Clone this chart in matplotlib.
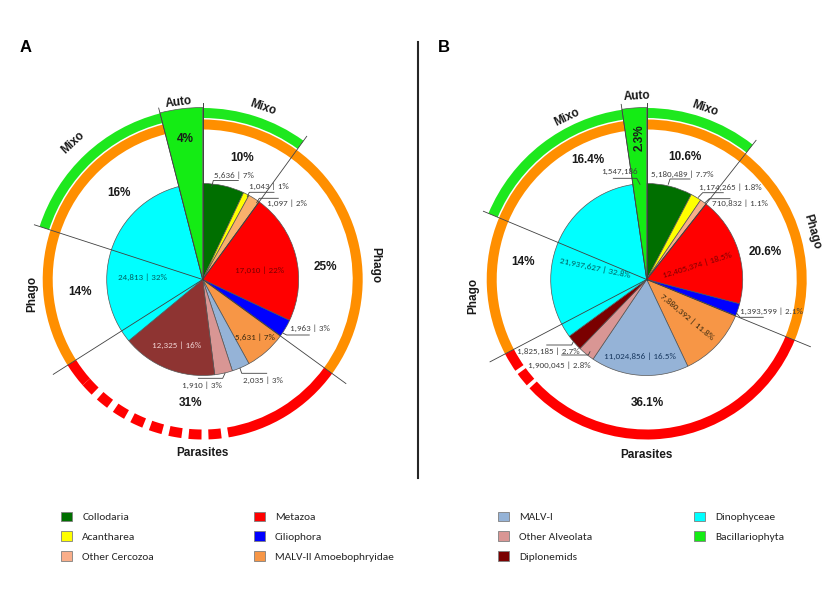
import matplotlib
matplotlib.use("Agg")
import matplotlib.pyplot as plt
from matplotlib.patches import Wedge, Patch
from matplotlib import font_manager
import numpy as np

names = {f.name for f in font_manager.fontManager.ttflist}
LABEL_FONT = "Carlito" if "Carlito" in names else "Lato"
BOLD_FONT = "Liberation Sans"

# ---- data ----
taxa = ["Collodaria", "Acantharea", "Other Cercozoa", "Metazoa", "Ciliophora",
        "MALV-II Amoebophryidae", "MALV-I", "Other Alveolata", "Diplonemids",
        "Dinophyceae", "Bacillariophyta"]
taxa_colors = ["#006f00", "#ffff00", "#f9ae8a", "#ff0000", "#0000ff",
               "#f79646", "#95b3d7", "#d99694", "#7a0000", "#00ffff", "#14ec14"]
a_colors = ["#006f00", "#ffff00", "#f9b06c", "#ff0000", "#0000ff",
            "#f79646", "#95b3d7", "#d99694", "#8e3432", "#00ffff", "#14ec14"]

a_reads = [5636, 1043, 1097, 17010, 1963, 5631, 2035, 1910, 12325, 24813, 3300]
a_pct = [7, 1, 2, 22, 3, 7, 3, 3, 16, 32, 4]
b_reads = [5180489, 1174265, 710832, 12405374, 1393599, 7880392,
           11024856, 1900045, 1825185, 21937627, 1547186]
b_pct = [7.7, 1.8, 1.1, 18.5, 2.1, 11.8, 16.5, 2.8, 2.7, 32.8, 2.3]

groups = ["Mixo", "Phago", "Parasites", "Phago", "Mixo", "Auto"]
a_group_pct = [10, 25, 31, 14, 16, 4]
b_group_pct = [10.6, 20.6, 36.1, 14, 16.4, 2.3]

# ---- layout (image pixel coords, y down) ----
H = 590
R_PIE = 96
R_RING = 160
R_GREEN = 171.5
RING_W = 10
R_LINE = 177
ORANGE = "#ff8f00"
RED = "#ff0000"
GREEN = "#1ee81e"
LINE_C = "#404040"
TXT_C = "#404040"
SMALL = 6.5


def Y(y):
    return H - y


def ang(p):
    return 90 - 3.6 * p


def polar(c, a, r):
    t = np.radians(a)
    return c[0] + r * np.cos(t), c[1] + r * np.sin(t)


fig = plt.figure(figsize=(8.4, 5.9), dpi=100)
ax = fig.add_axes([0, 0, 1, 1])


def draw_panel(center_img, pct, colors, reads, group_pct, red_style,
               group_lab, pct_lab, callouts, inside):
    c = (center_img[0], Y(center_img[1]))
    bounds = np.concatenate([[0], np.cumsum(group_pct)])
    for i, g in enumerate(groups):
        t1, t2 = ang(bounds[i + 1]), ang(bounds[i])
        if g in ("Mixo", "Phago"):
            ax.add_patch(Wedge(c, R_RING, t1, t2, width=RING_W, color=ORANGE, lw=0))
        if g == "Mixo":
            ax.add_patch(Wedge(c, R_GREEN, t1, t2, width=RING_W, color=GREEN, lw=0))
        if g == "Parasites":
            red_style(c, bounds[i], bounds[i + 1])
    wedges, _ = ax.pie(pct, colors=colors, startangle=90, counterclock=False,
                       center=c, radius=R_PIE,
                       wedgeprops=dict(edgecolor="#555555", linewidth=0.5))
    wedges[-1].set_radius(R_GREEN + 0.5)
    for w in wedges:
        w.set_zorder(2)
    for b in bounds:
        x, y = polar(c, ang(b), R_LINE)
        ax.plot([c[0], x], [c[1], y], color=LINE_C, lw=0.6, zorder=3)
    for g, (a, r, rot) in zip(groups, group_lab):
        x, y = polar(c, a, r)
        ax.text(x, y, g, ha="center", va="center", rotation=rot,
                fontsize=8.5, fontweight="bold", family=BOLD_FONT, color="#1a1a1a")
    for gp, (x, y, rot) in zip(group_pct, pct_lab):
        ax.text(x, Y(y), f"{gp:g}%", ha="center", va="center", rotation=rot,
                fontsize=8.5, fontweight="bold", family=BOLD_FONT, color="#1a1a1a",
                zorder=4)
    for i, (x, y, pts, only_reads) in callouts.items():
        s = f"{reads[i]:,}" if only_reads else f"{reads[i]:,} | {pct[i]:g}%"
        ax.text(x, Y(y), s, ha="center", va="center", fontsize=SMALL,
                family=LABEL_FONT, color=TXT_C, zorder=4)
        ax.plot([p[0] for p in pts], [Y(p[1]) for p in pts], color=LINE_C,
                lw=0.6, zorder=4)
    for i, (x, y, rot, col) in inside.items():
        ax.text(x, Y(y), f"{reads[i]:,} | {pct[i]:g}%", ha="center", va="center",
                rotation=rot, fontsize=SMALL, family=LABEL_FONT, color=col, zorder=4)


def red_dashed(c, s, e):
    span = e - s
    d0, d1 = s + 0.40 * span, s + 0.92 * span
    ax.add_patch(Wedge(c, R_RING, ang(d0), ang(s), width=RING_W, color=RED, lw=0))
    ax.add_patch(Wedge(c, R_RING, ang(e), ang(d1), width=RING_W, color=RED, lw=0))
    n = 8
    step = (d1 - d0) / n
    for k in range(n):
        a0 = d0 + k * step + 0.35 * step
        a1 = d0 + (k + 1) * step
        ax.add_patch(Wedge(c, R_RING, ang(a1), ang(a0), width=RING_W, color=RED, lw=0))


def red_gaps(c, s, e):
    ax.add_patch(Wedge(c, R_RING, ang(e), ang(s), width=RING_W, color=RED, lw=0))
    span = e - s
    for f in (0.889, 0.94):
        p = s + f * span
        ax.add_patch(Wedge(c, R_RING + 1, ang(p + 0.2), ang(p - 0.2),
                           width=RING_W + 2, color="white", lw=0))


a_group_lab = [(70.6, 182, -19), (4.8, 173, -90), (270, 174, 0),
               (185, 171, 90), (133.5, 188, 43), (97.6, 179, 7)]
a_pct_lab = [(242, 158, 0), (325, 267, 0), (191, 403, 0),
             (80, 292, 0), (119, 193, 0), (185, 139, 0)]
a_callouts = {
    0: (234, 175.5, [(211.7, 186.7), (213.3, 180.5), (238.3, 180.5)], False),
    1: (268.5, 186.7, [(247.3, 196.7), (249.3, 192.3), (274, 192.3)], False),
    2: (286.5, 203.3, [(256.7, 202.7), (259.3, 198.3), (278.3, 198.3)], False),
    4: (310, 328.5, [(283.3, 333.3), (286.7, 335), (309.3, 335)], False),
    6: (262.5, 380, [(240, 368.3), (241.7, 373.3), (266.7, 373.3)], False),
    7: (201.7, 385, [(225, 373.3), (222.7, 378.3), (198.3, 378.3)], False),
}
a_inside = {
    3: (260, 270, 0, "#7a0000"),
    5: (255, 337.7, 0, "#3a2a10"),
    8: (176.7, 345, 0, "#f2d6d6"),
    9: (142, 277, 0, "#006060"),
}

b_group_lab = [(71.2, 181, -19), (16.2, 172, -74), (270, 176, 0),
               (185.3, 174, 90), (116.2, 181, 26), (93, 183, 3)]
b_pct_lab = [(685, 157, 0), (765, 252, 0), (647, 403, 0),
             (523, 262, 0), (588, 160, 0), (640, 138, 90)]
b_callouts = {
    10: (619.5, 171.7, [(613.3, 178.3), (636.7, 178.3), (640, 184.3)], True),
    0: (682, 174, [(668.3, 184.3), (670, 179), (690, 179)], False),
    1: (730.8, 187.7, [(698.3, 197.3), (702.7, 192.7), (723.3, 192.7)], False),
    2: (739.5, 203.3, [(705, 202.7), (709.3, 198.7), (730, 198.7)], False),
    4: (771.3, 311.7, [(736.7, 313.3), (740, 317.3), (763.3, 317.3)], False),
    8: (548, 351, [(573.3, 341.7), (571.7, 345), (546.7, 345)], False),
    7: (559.7, 365, [(590, 351.7), (588.3, 355), (561.7, 355)], False),
}
b_inside = {
    3: (697, 265, 17, "#7a0000"),
    5: (687.5, 316.7, -40, "#3a2a10"),
    6: (640, 356.7, 0, "#17375e"),
    9: (595, 267.7, -12, "#006060"),
}

draw_panel((202.7, 279.5), a_pct, a_colors, a_reads, a_group_pct, red_dashed,
           a_group_lab, a_pct_lab, a_callouts, a_inside)
draw_panel((646.7, 279.5), b_pct, taxa_colors, b_reads, b_group_pct, red_gaps,
           b_group_lab, b_pct_lab, b_callouts, b_inside)

ax.text(26, Y(47), "A", ha="center", va="center", fontsize=12,
        fontweight="bold", family=BOLD_FONT)
ax.text(443.7, Y(47), "B", ha="center", va="center", fontsize=12,
        fontweight="bold", family=BOLD_FONT)
ax.plot([418.3, 418.3], [Y(41.7), Y(478)], color="#262626", lw=1.5)


def handles(idx):
    out = []
    for i in idx:
        col = taxa_colors[i]
        out.append(Patch(facecolor=col, edgecolor="#7f7f7f", linewidth=0.6,
                         label=taxa[i]))
    return out


leg_kw = dict(loc="upper left", frameon=False, ncol=2, borderpad=0,
              borderaxespad=0, handlelength=0.96, handleheight=0.96,
              handletextpad=0.9, labelspacing=0.78,
              prop=dict(family=LABEL_FONT, size=8.2), labelcolor="#262626")
leg1 = ax.legend(handles=handles(range(0, 6)), bbox_to_anchor=(61 / 840, 1 - 511.5 / H),
                 columnspacing=8.75, **leg_kw)
ax.add_artist(leg1)
ax.legend(handles=handles(range(6, 11)), bbox_to_anchor=(498 / 840, 1 - 511.5 / H),
          columnspacing=8.9, **leg_kw)

ax.set_xlim(0, 840)
ax.set_ylim(0, H)
ax.set_aspect("equal")
ax.axis("off")
fig.savefig("out.png", dpi=100, facecolor="white")
